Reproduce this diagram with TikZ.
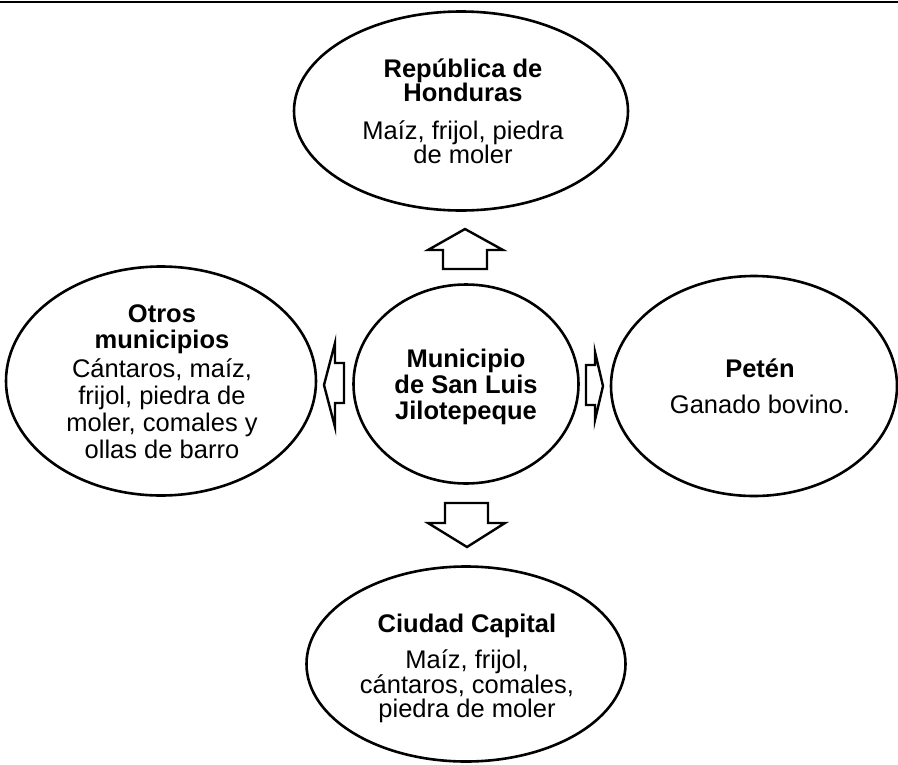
\documentclass[tikz,border=0pt]{standalone}
\usepackage{fontspec}
\setmainfont{Liberation Sans}
\usetikzlibrary{shapes.geometric}
\begin{document}
\begin{tikzpicture}[x=1pt,y=-1pt,
  place/.style={draw, line width=2.6pt, ellipse, inner sep=0pt},
  txt/.style={inner sep=0pt, anchor=base, font=\fontsize{25.5}{28}\selectfont},
  ttl/.style={txt, font=\fontsize{25.5}{28}\selectfont\bfseries},
  blockarrow/.style={draw, line width=2.4pt, line join=miter, fill=white}]
\useasboundingbox (0,0) rectangle (898,764);
\draw[line width=2.6pt] (0,2) -- (898,2);
% ellipses
\node[place, minimum width=334pt, minimum height=199pt] (hond) at (461,111) {};
\node[place, minimum width=225pt, minimum height=199pt] (muni) at (466,384) {};
\node[place, minimum width=310pt, minimum height=229pt] (otros) at (161,381) {};
\node[place, minimum width=286pt, minimum height=220pt] (peten) at (754,386) {};
\node[place, minimum width=319pt, minimum height=195pt] (capital) at (466,664) {};
% texts
\node[ttl] (h1) at (463,77) {República de};
\node[ttl] (h2) at (463,101) {Honduras};
\node[txt] (h3) at (463,139) {Maíz, frijol, piedra};
\node[txt] (h4) at (463,163) {de moler};
\node[ttl] (m1) at (466,367) {Municipio};
\node[ttl] (m2) at (466,393) {de San Luis};
\node[ttl] (m3) at (466,419) {Jilotepeque};
\node[ttl] (o1) at (162,322) {Otros};
\node[ttl] (o2) at (162,348) {municipios};
\node[txt] (o3) at (162,377) {Cántaros, maíz,};
\node[txt] (o4) at (162,404) {frijol, piedra de};
\node[txt] (o5) at (162,431) {moler, comales y};
\node[txt] (o6) at (162,458) {ollas de barro};
\node[ttl] (p1) at (760,377) {Petén};
\node[txt] (p2) at (760,413) {Ganado bovino.};
\node[ttl] (c1) at (467,632) {Ciudad Capital};
\node[txt] (c2) at (467,668) {Maíz, frijol,};
\node[txt] (c3) at (467,693) {cántaros, comales,};
\node[txt] (c4) at (467,717) {piedra de moler};
% block arrows
\draw[blockarrow] (443,269) -- (443,250) -- (428,250) -- (465,229) -- (503,250) -- (487,250) -- (487,269) -- cycle;
\draw[blockarrow] (445,503) -- (488,503) -- (488,523) -- (505,523) -- (467,547) -- (428,523) -- (445,523) -- cycle;
\draw[blockarrow] (344,363) -- (335,363) -- (335,343) -- (324,385) -- (335,427) -- (335,403) -- (344,403) -- cycle;
\draw[blockarrow] (586,365) -- (595,365) -- (595,352) -- (603,386) -- (595,420) -- (595,405) -- (586,405) -- cycle;
\end{tikzpicture}
\end{document}
